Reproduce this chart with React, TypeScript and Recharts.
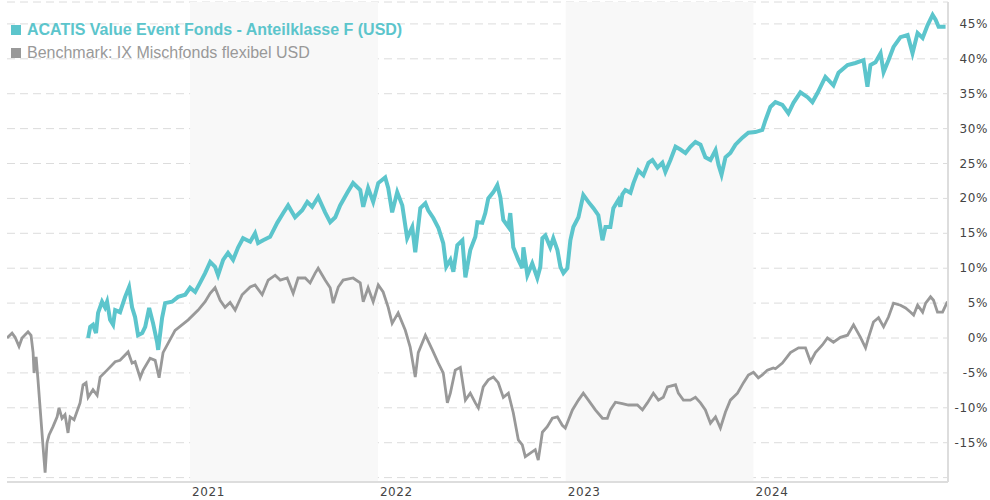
import React from 'react';
import { LineChart, Line, XAxis, YAxis, CartesianGrid, ReferenceArea } from 'recharts';

// dates as decimal years, values as performance in %
const benchDates = [
  2020.025, 2020.052, 2020.068, 2020.089, 2020.105, 2020.137, 2020.153, 2020.164, 2020.169, 2020.18,
  2020.19, 2020.206, 2020.217, 2020.228, 2020.238, 2020.249, 2020.27, 2020.292, 2020.302, 2020.318,
  2020.334, 2020.35, 2020.361, 2020.382, 2020.414, 2020.43, 2020.446, 2020.457, 2020.483, 2020.505,
  2020.521, 2020.558, 2020.601, 2020.627, 2020.67, 2020.691, 2020.707, 2020.734, 2020.75, 2020.787,
  2020.814, 2020.835, 2020.856, 2020.92, 2020.99, 2021.043, 2021.08, 2021.107, 2021.133, 2021.16,
  2021.186, 2021.213, 2021.24, 2021.277, 2021.32, 2021.346, 2021.384, 2021.416, 2021.453, 2021.48,
  2021.517, 2021.549, 2021.575, 2021.613, 2021.639, 2021.666, 2021.682, 2021.719, 2021.746, 2021.762,
  2021.789, 2021.815, 2021.868, 2021.906, 2021.922, 2021.948, 2021.975, 2022.002, 2022.028, 2022.055,
  2022.076, 2022.108, 2022.146, 2022.172, 2022.199, 2022.215, 2022.253, 2022.29, 2022.322, 2022.348,
  2022.37, 2022.386, 2022.412, 2022.439, 2022.466, 2022.492, 2022.519, 2022.535, 2022.561, 2022.588,
  2022.615, 2022.641, 2022.668, 2022.695, 2022.721, 2022.748, 2022.769, 2022.785, 2022.812, 2022.838,
  2022.854, 2022.876, 2022.902, 2022.929, 2022.956, 2022.982, 2022.998, 2023.036, 2023.068, 2023.094,
  2023.121, 2023.158, 2023.196, 2023.222, 2023.238, 2023.265, 2023.302, 2023.334, 2023.382, 2023.409,
  2023.435, 2023.467, 2023.494, 2023.52, 2023.542, 2023.585, 2023.6, 2023.627, 2023.664, 2023.691,
  2023.718, 2023.744, 2023.771, 2023.798, 2023.824, 2023.851, 2023.877, 2023.915, 2023.947, 2023.973,
  2024.0, 2024.026, 2024.047, 2024.074, 2024.106, 2024.117, 2024.154, 2024.197, 2024.24, 2024.277,
  2024.304, 2024.33, 2024.367, 2024.394, 2024.426, 2024.463, 2024.501, 2024.533, 2024.57, 2024.597,
  2024.613, 2024.639, 2024.666, 2024.693, 2024.719, 2024.746, 2024.783, 2024.81, 2024.837, 2024.853,
  2024.874, 2024.901, 2024.917, 2024.943, 2024.959, 2024.98, 2025.007, 2025.033,
];
const benchValues = [
  0, 0.7, 0.1, -1.2, 0, 0.9, 0.4, -2.1, -5, -2.7,
  -6, -11.7, -15.6, -19.3, -15, -13.9, -12.7, -11.3, -10, -11.5,
  -11, -13.6, -11.3, -11.7, -9.3, -6.7, -6.4, -8.5, -7.4, -8.2,
  -5.6, -4.6, -3.4, -3.2, -2, -3.6, -3.4, -5.7, -4.6, -2.9,
  -3.2, -5.7, -2.1, 1.1, 2.6, 4, 5.2, 6.4, 7.2, 5.4,
  4.4, 5.1, 4, 6.2, 7.3, 7.6, 6.2, 8.3, 9, 8.3,
  8.6, 6.4, 8.6, 8.6, 7.9, 9.3, 10, 8.3, 7.2, 5,
  7.3, 8.3, 8.6, 7.9, 5.2, 7.2, 5.2, 7.6, 6.6, 4.4,
  2.1, 3.6, 1.1, -1.3, -5.6, -2.1, 0.4, -1.7, -3.6, -5,
  -9.3, -7.9, -4.6, -4.2, -8.9, -7.9, -9.3, -10, -7, -6,
  -5.6, -6.4, -8.5, -7.9, -10.7, -14.6, -15.3, -17, -16.5, -16,
  -17.5, -13.5, -12.7, -11.5, -11.3, -12.5, -12.9, -10.3, -8.9, -7.9,
  -8.9, -10.3, -11.5, -11.5, -10.3, -9.2, -9.4, -9.6, -9.6, -10.3,
  -9.3, -7.9, -8.9, -8.5, -7, -6.7, -7.9, -8.9, -8.9, -8.5,
  -9.3, -10.3, -12.2, -11.3, -12.9, -10.6, -8.9, -7.9, -6.4, -5.3,
  -4.9, -5.7, -5.3, -4.6, -4.3, -4.4, -3.6, -2.1, -1.4, -1.4,
  -3.4, -2.1, -1, 0, -0.6, 0.1, 0.4, 1.9, 0.1, -1.4,
  0.1, 2.3, 2.9, 1.6, 3, 5, 4.7, 4.3, 3.7, 3.3,
  4.7, 3.7, 5, 5.9, 5.4, 3.7, 3.7, 5.2,
];

const fundDates = [
  2020.457, 2020.468, 2020.483, 2020.499, 2020.51, 2020.531, 2020.547, 2020.558, 2020.574, 2020.59,
  2020.601, 2020.627, 2020.654, 2020.675, 2020.691, 2020.707, 2020.723, 2020.745, 2020.761, 2020.782,
  2020.803, 2020.825, 2020.83, 2020.851, 2020.867, 2020.904, 2020.936, 2020.974, 2021.0, 2021.027,
  2021.053, 2021.08, 2021.107, 2021.133, 2021.149, 2021.176, 2021.202, 2021.229, 2021.256, 2021.282,
  2021.32, 2021.346, 2021.362, 2021.389, 2021.426, 2021.464, 2021.496, 2021.522, 2021.559, 2021.597,
  2021.624, 2021.65, 2021.682, 2021.719, 2021.746, 2021.773, 2021.799, 2021.837, 2021.868, 2021.906,
  2021.922, 2021.948, 2021.975, 2022.002, 2022.039, 2022.055, 2022.076, 2022.103, 2022.13, 2022.156,
  2022.183, 2022.199, 2022.226, 2022.253, 2022.268, 2022.295, 2022.322, 2022.348, 2022.364, 2022.386,
  2022.402, 2022.423, 2022.45, 2022.466, 2022.492, 2022.519, 2022.53, 2022.556, 2022.572, 2022.588,
  2022.615, 2022.636, 2022.652, 2022.668, 2022.695, 2022.705, 2022.721, 2022.748, 2022.769, 2022.775,
  2022.796, 2022.822, 2022.849, 2022.865, 2022.876, 2022.892, 2022.918, 2022.934, 2022.956, 2022.972,
  2022.988, 2023.009, 2023.025, 2023.041, 2023.068, 2023.094, 2023.121, 2023.148, 2023.174, 2023.196,
  2023.212, 2023.238, 2023.254, 2023.281, 2023.291, 2023.302, 2023.318, 2023.345, 2023.361, 2023.387,
  2023.414, 2023.441, 2023.462, 2023.489, 2023.515, 2023.531, 2023.558, 2023.585, 2023.611, 2023.638,
  2023.664, 2023.691, 2023.718, 2023.744, 2023.771, 2023.798, 2023.814, 2023.83, 2023.851, 2023.877,
  2023.904, 2023.941, 2023.973, 2024.01, 2024.047, 2024.064, 2024.09, 2024.117, 2024.154, 2024.186,
  2024.213, 2024.25, 2024.288, 2024.314, 2024.341, 2024.383, 2024.426, 2024.453, 2024.501, 2024.543,
  2024.586, 2024.607, 2024.623, 2024.65, 2024.677, 2024.693, 2024.719, 2024.746, 2024.783, 2024.821,
  2024.847, 2024.874, 2024.901, 2024.927, 2024.954, 2024.97, 2024.986, 2025.023,
];
const fundValues = [
  0, 1.6, 1.9, 0.7, 3.6, 5.2, 4.4, 5.2, 2.6, 1.9,
  4, 3.7, 5.9, 7.3, 4.4, 3, 0.4, 0.7, 1.6, 4.3,
  2.1, -0.7, -1.7, 2.9, 5, 5.2, 5.9, 6.2, 7.2, 6.6,
  7.9, 9.3, 10.9, 10.2, 9, 11.2, 12.2, 11.2, 13, 14.3,
  13.8, 15, 13.6, 14, 14.5, 16.5, 17.9, 19, 17.3, 18.3,
  19.5, 18.8, 20.2, 18, 16.6, 17.3, 19, 20.8, 22.2, 21.2,
  18.8, 21.5, 19.5, 22.2, 23, 21.5, 18, 20.9, 19, 14.3,
  15.9, 12.3, 18.6, 19.3, 18.3, 17.2, 15.8, 13.6, 10.2, 11.2,
  9.5, 13.3, 14, 8.7, 12.6, 14.5, 16.6, 16.5, 17.9, 20,
  20.9, 21.9, 20.2, 16.9, 15.9, 17.9, 13, 11.2, 10, 13,
  9, 10.7, 8.6, 10.2, 14.3, 14.7, 13, 14.3, 12.6, 10.2,
  9.3, 10, 14, 15.9, 17.3, 20.5, 19.5, 18.6, 17.6, 14,
  15.9, 15.9, 18.6, 19.8, 18.8, 20.6, 21.2, 20.8, 22.2, 24,
  23.3, 25.1, 25.5, 24.4, 25.1, 23.8, 25.5, 27.4, 27, 26.5,
  27.4, 28.1, 27.7, 25.9, 25.5, 26.9, 24.8, 23.4, 25.9, 26.5,
  27.7, 28.7, 29.4, 29.5, 29.8, 31.2, 33.1, 33.8, 33.4, 32.2,
  33.7, 35.2, 34.5, 33.8, 35.1, 37.4, 36.2, 38, 39.1, 39.4,
  39.8, 36, 39.1, 39.5, 40.8, 38.1, 39.8, 41.7, 43.1, 43.4,
  40.8, 43.7, 43, 44.8, 46.3, 45.6, 44.6, 44.6,
];

const yearTicks = [2021, 2022, 2023, 2024];
const shadedYears = [2021, 2023];
const percentTicks = [-20, -15, -10, -5, 0, 5, 10, 15, 20, 25, 30, 35, 40, 45];

const FUND_NAME = 'ACATIS Value Event Fonds - Anteilklasse F (USD)';
const BENCH_NAME = 'Benchmark: IX Mischfonds flexibel USD';

const FUND_COLOR = '#5cc5cc';
const BENCH_COLOR = '#999999';

const benchData = benchDates.map((d, i) => ({ date: d, value: benchValues[i] }));
const fundData = fundDates.map((d, i) => ({ date: d, value: fundValues[i] }));

const axisFont = { fontFamily: '"DejaVu Sans", Verdana, sans-serif', fontSize: 12, letterSpacing: 0.6 };

function YearTick(props: any) {
  const { x, y, payload } = props;
  return (
    <text x={x + 2} y={y} dy={6} textAnchor="start" fill="#444" style={axisFont}>
      {payload.value}
    </text>
  );
}

function PercentTick(props: any) {
  const { y, payload } = props;
  if (payload.value === -20) return null;
  return (
    <text x={988} y={y} dy={4} textAnchor="end" fill="#444" style={axisFont}>
      {payload.value}%
    </text>
  );
}

function LegendBox() {
  const row: React.CSSProperties = {
    display: 'flex',
    alignItems: 'center',
    height: 23,
    fontFamily: '"Liberation Sans", Arial, sans-serif',
    whiteSpace: 'nowrap',
  };
  const square = (color: string): React.CSSProperties => ({
    width: 10,
    height: 10,
    background: color,
    marginRight: 6,
  });
  return (
    <div style={{ position: 'absolute', left: 11, top: 18 }}>
      <div style={{ ...row, color: FUND_COLOR, fontWeight: 'bold', fontSize: 16 }}>
        <span style={square(FUND_COLOR)} />
        {FUND_NAME}
      </div>
      <div style={{ ...row, color: BENCH_COLOR, fontSize: 16 }}>
        <span style={square(BENCH_COLOR)} />
        {BENCH_NAME}
      </div>
    </div>
  );
}

export default function App() {
  return (
    <div style={{ position: 'absolute', left: 0, top: 0, width: 990, height: 500, background: '#fff' }}>
      <LineChart width={990} height={500} margin={{ top: 2, right: 0, left: 7, bottom: 0 }}>
        {shadedYears.map((yr) => (
          <ReferenceArea key={yr} x1={yr} x2={yr + 1} fill="#f8f8f8" fillOpacity={1} stroke="none" />
        ))}
        <CartesianGrid vertical={false} stroke="#dcdcdc" strokeDasharray="8 5" />
        <XAxis
          type="number"
          dataKey="date"
          domain={[2020.025, 2025.036]}
          ticks={yearTicks}
          tick={<YearTick />}
          tickLine={false}
          axisLine={{ stroke: '#dddddd', strokeWidth: 2 }}
          height={18}
          allowDataOverflow
        />
        <YAxis
          orientation="right"
          type="number"
          domain={[-20.63, 48.14]}
          ticks={percentTicks}
          tick={<PercentTick />}
          tickLine={false}
          axisLine={{ stroke: '#dddddd', strokeWidth: 2 }}
          width={42}
          allowDataOverflow
        />
        <Line
          data={benchData}
          dataKey="value"
          type="linear"
          stroke={BENCH_COLOR}
          strokeWidth={2.8}
          dot={false}
          isAnimationActive={false}
        />
        <Line
          data={fundData}
          dataKey="value"
          type="linear"
          stroke={FUND_COLOR}
          strokeWidth={4}
          dot={false}
          isAnimationActive={false}
        />
      </LineChart>
      <LegendBox />
    </div>
  );
}
